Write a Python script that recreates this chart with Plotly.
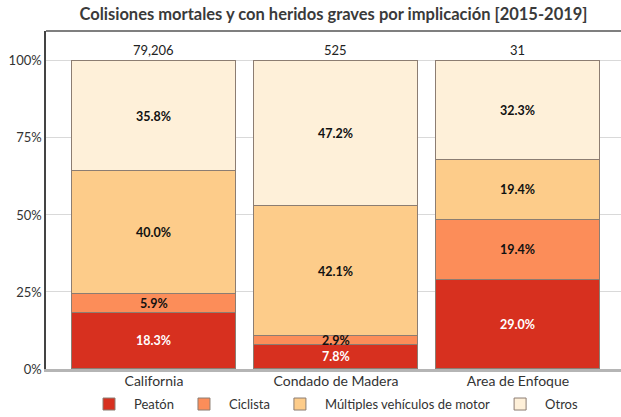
import plotly.graph_objects as go

categories = ["California", "Condado de Madera", "Area de Enfoque"]
totals = ["79,206", "525", "31"]
series_names = ["Peatón", "Ciclista", "Múltiples vehículos de motor", "Otros"]
peaton = [18.3, 7.8, 29.0]
ciclista = [5.9, 2.9, 19.4]
multiples = [40.0, 42.1, 19.4]
otros = [35.8, 47.2, 32.3]
tick_vals = [0, 25, 50, 75, 100]
tick_text = ["0%", "25%", "50%", "75%", "100%"]

colors = ["#d7301f", "#fc8d59", "#fdcc8a", "#fef0d9"]
label_colors = ["white", "#111111", "#111111", "#111111"]
series = [peaton, ciclista, multiples, otros]
FONT = "Lato, 'Open Sans', sans-serif"

fig = go.Figure()
xs = list(range(len(categories)))
for name, vals, col in zip(series_names, series, colors):
    fig.add_trace(go.Bar(
        x=xs, y=vals, name=name, width=0.9,
        marker=dict(color=col, line=dict(color="#8c7d72", width=1)),
        hoverinfo="skip",
    ))

annotations = []
for i in xs:
    cum = 0
    for s, vals in enumerate(series):
        v = vals[i]
        annotations.append(dict(
            x=i, y=cum + v / 2, xref="x", yref="y", text=f"<b>{v:.1f}%</b>",
            showarrow=False, font=dict(family=FONT, size=12.5, color=label_colors[s]),
        ))
        cum += v
    annotations.append(dict(
        x=i, y=103.6, xref="x", yref="y", text=totals[i], showarrow=False,
        font=dict(family=FONT, size=13, color="#222222"),
    ))

fig.update_layout(
    barmode="stack",
    width=621, height=417,
    margin=dict(l=46, r=0, t=31, b=48, autoexpand=False),
    paper_bgcolor="white", plot_bgcolor="white",
    font=dict(family=FONT, size=13, color="#333333"),
    title=dict(text="<b>Colisiones mortales y con heridos graves por implicación [2015-2019]</b>",
               x=0.5, xref="paper", xanchor="center", y=0.967, yanchor="middle",
               font=dict(family=FONT, size=16.5, color="#3a3a3a")),
    showlegend=True,
    legend=dict(orientation="h", x=0.5, xref="paper", xanchor="center",
                yref="container", y=0.031, yanchor="middle",
                font=dict(family=FONT, size=13, color="#333333"), traceorder="normal",
                itemwidth=40),
    xaxis=dict(tickmode="array", tickvals=xs, ticktext=categories, range=[-0.593, 2.566],
               showline=True, linecolor="#b5b5b5", linewidth=3, ticks="", showgrid=False,
               automargin=False, ticklabelstandoff=-3,
               tickfont=dict(family=FONT, size=14, color="#333333")),
    yaxis=dict(range=[0, 109.7], tickvals=tick_vals, ticktext=tick_text,
               showgrid=True, gridcolor="#d9d9d9", gridwidth=1, zeroline=False,
               showline=True, linecolor="#444444", linewidth=1.5, ticks="",
               automargin=False,
               tickfont=dict(family=FONT, size=13, color="#333333")),
    annotations=annotations,
    shapes=[dict(type="line", xref="paper", yref="paper", x0=0, x1=1, y0=1, y1=1,
                 line=dict(color="#555555", width=1.5))],
    bargap=0,
)

fig.write_html("out.html", config={"displayModeBar": False},
               post_script="document.body.style.margin='0px';document.body.style.overflow='hidden';")
